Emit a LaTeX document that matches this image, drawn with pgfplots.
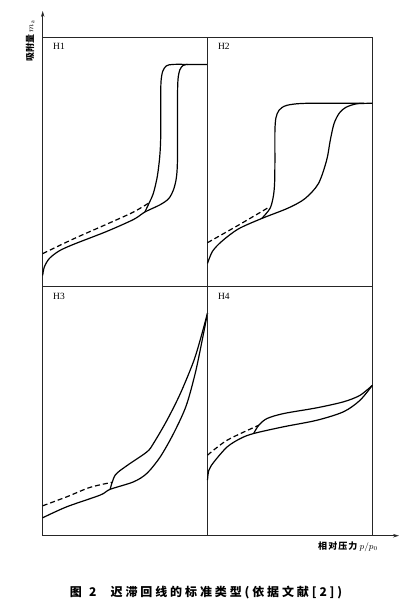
\documentclass[border=0pt]{standalone}
\usepackage{fontspec}
\usepackage{pgfplots}
\pgfplotsset{compat=1.18}
\usetikzlibrary{arrows.meta}
\setmainfont{Liberation Serif}
\newfontfamily\cjk{Noto Sans CJK SC}

\pgfplotsset{
  panel/.style={
    width=164.8pt, height=249.3pt, scale only axis,
    xmin=0, xmax=1, ymin=0, ymax=1,
    xtick=\empty, ytick=\empty,
    axis line style={line width=0.9pt, black!85},
    clip=false,
  },
  cur/.style={black, line width=1.2pt, smooth, no marks, tension=0.5},
  dsh/.style={black, line width=1.2pt, smooth, no marks, dash pattern=on 5pt off 3pt},
}
\newcommand{\plab}[1]{\node[anchor=north west, font=\fontsize{9.5}{10}\selectfont] at (rel axis cs:0,1) [xshift=7pt, yshift=-3pt] {#1};}

\begin{document}
\begin{tikzpicture}
\useasboundingbox (0,0) rectangle (407pt,-613pt);

% H1
\begin{axis}[panel, at={(42.7pt,-286.3pt)}, anchor=south west]
\addplot[cur] coordinates {(0,0.044) (0.010,0.078) (0.041,0.112) (0.10,0.142) (0.186,0.168) (0.388,0.220) (0.551,0.268) (0.620,0.298) (0.712,0.327) (0.765,0.352) (0.795,0.390) (0.812,0.440) (0.818,0.52) (0.818,0.75) (0.821,0.830) (0.832,0.868) (0.852,0.886) (0.88,0.890)};
\addplot[cur] coordinates {(0.620,0.298) (0.650,0.340) (0.671,0.372) (0.695,0.439) (0.710,0.519) (0.716,0.60) (0.716,0.75) (0.718,0.822) (0.728,0.862) (0.750,0.884) (0.790,0.890) (0.90,0.890) (1,0.890)};
\addplot[dsh] coordinates {(0,0.131) (0.186,0.190) (0.388,0.249) (0.551,0.298) (0.653,0.338)};
\plab{H1}
\end{axis}

% H2
\begin{axis}[panel, at={(207.5pt,-286.3pt)}, anchor=south west]
\addplot[cur] coordinates {(0,0.092) (0.03,0.140) (0.086,0.180) (0.187,0.230) (0.329,0.272) (0.490,0.314) (0.592,0.352) (0.673,0.412) (0.723,0.506) (0.745,0.586) (0.768,0.653) (0.80,0.695) (0.84,0.718) (0.906,0.732) (1,0.734)};
\addplot[cur] coordinates {(0.329,0.272) (0.379,0.312) (0.399,0.359) (0.407,0.412) (0.409,0.50) (0.409,0.62) (0.415,0.675) (0.435,0.707) (0.482,0.726) (0.60,0.734) (0.95,0.734)};
\addplot[dsh] coordinates {(0,0.175) (0.187,0.245) (0.370,0.316)};
\plab{H2}
\end{axis}

% H3
\begin{axis}[panel, at={(42.7pt,-535.7pt)}, anchor=south west]
\addplot[cur] coordinates {(0,0.072) (0.146,0.116) (0.349,0.163) (0.409,0.186) (0.551,0.216) (0.632,0.250) (0.713,0.316) (0.794,0.410) (0.870,0.520) (0.925,0.650) (0.965,0.775) (1,0.893)};
\addplot[cur] coordinates {(0.409,0.186) (0.440,0.243) (0.511,0.281) (0.632,0.336) (0.672,0.370) (0.754,0.463) (0.835,0.570) (0.916,0.700) (0.962,0.800) (1,0.893)};
\addplot[dsh] coordinates {(0,0.120) (0.146,0.156) (0.288,0.194) (0.420,0.214)};
\plab{H3}
\end{axis}

% H4
\begin{axis}[panel, at={(207.5pt,-535.7pt)}, anchor=south west]
\addplot[cur] coordinates {(0,0.223) (0.008,0.262) (0.038,0.295) (0.119,0.356) (0.200,0.390) (0.280,0.410) (0.462,0.437) (0.663,0.463) (0.825,0.497) (0.925,0.543) (1,0.603)};
\addplot[cur] coordinates {(0.280,0.410) (0.311,0.443) (0.361,0.470) (0.462,0.490) (0.663,0.513) (0.825,0.537) (0.925,0.563) (1,0.603)};
\addplot[dsh] coordinates {(0,0.323) (0.119,0.383) (0.311,0.443)};
\plab{H4}
\end{axis}

% axis arrows
\draw[line width=0.9pt, black!85, -{Stealth[length=6pt,width=3.5pt]}] (42.7pt,-37pt) -- (42.7pt,-11pt);
\draw[line width=0.9pt, black!85, -{Stealth[length=6pt,width=3.5pt]}] (372.3pt,-535.7pt) -- (399pt,-535.7pt);

% labels
\node[rotate=90, font=\fontsize{9}{10}\selectfont] at (30pt,-41pt) {{\cjk\bfseries 吸附量} $m_{\mathrm{a}}$};
\node[font=\fontsize{9}{10}\selectfont] at (348pt,-547pt) {{\cjk\bfseries\addfontfeature{LetterSpace=12}相对压力} $p/p_0$};
\node[font=\fontsize{12}{14}\selectfont] at (206pt,-593pt) {\cjk\bfseries\addfontfeature{LetterSpace=24}图\hspace{0.6em}2\hspace{1.2em}迟滞回线的标准类型(依据文献[2])};
\end{tikzpicture}
\end{document}
